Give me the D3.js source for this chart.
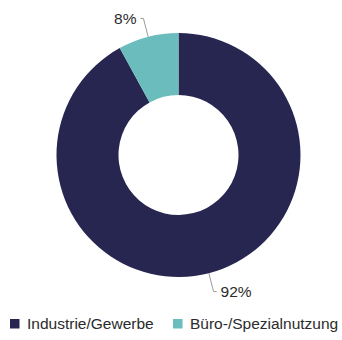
<!DOCTYPE html>
<html>
<head>
<meta charset="utf-8">
<script src="https://cdn.jsdelivr.net/npm/d3@7"></script>
<style>
  html, body { margin: 0; padding: 0; background: #ffffff; }
  svg { display: block; }
  text { font-family: "Liberation Sans", Arial, Helvetica, sans-serif; fill: #2b2b2b; }
</style>
</head>
<body>
<svg id="chart" width="342" height="340"></svg>
<script>
// Nutzungsarten – Anteile in Prozent
const categories = ["Industrie/Gewerbe", "Büro-/Spezialnutzung"];
const values = [92, 8];
const valueLabels = ["92%", "8%"];
const colors = ["#262650", "#6bbdbd"];

const width = 342, height = 340;
const cx = 178.5, cy = 155;
const outerR = 122, innerR = 60;

const svg = d3.select("#chart");
const g = svg.append("g").attr("transform", `translate(${cx},${cy})`);

const data = categories.map((c, i) => ({ name: c, value: values[i], label: valueLabels[i], color: colors[i] }));

const pie = d3.pie().sort(null).value(d => d.value);
const arcs = pie(data);

const arc = d3.arc().innerRadius(innerR).outerRadius(outerR);
const lineStart = d3.arc().innerRadius(outerR).outerRadius(outerR);
const lineBend = d3.arc().innerRadius(141).outerRadius(141);

g.selectAll("path.slice")
  .data(arcs)
  .join("path")
  .attr("class", "slice")
  .attr("d", arc)
  .attr("fill", d => d.data.color);

// leader lines and value labels
arcs.forEach(a => {
  const p0 = lineStart.centroid(a);
  const p1 = lineBend.centroid(a);
  const mid = (a.startAngle + a.endAngle) / 2;
  const right = Math.sin(mid) > 0;
  const p2 = [p1[0] + (right ? 3 : -3), p1[1]];
  g.append("polyline")
    .attr("points", [p0, p1, p2].map(p => p.join(",")).join(" "))
    .attr("fill", "none")
    .attr("stroke", "#9a9a9a")
    .attr("stroke-width", 1);
  g.append("text")
    .attr("x", p2[0] + (right ? 4 : -4))
    .attr("y", p2[1])
    .attr("dy", "0.36em")
    .attr("text-anchor", right ? "start" : "end")
    .attr("font-size", 15.5)
    .text(a.data.label);
});

// legend
const legend = svg.append("g").attr("transform", "translate(10,319)");
const legendX = [0, 163];
const items = legend.selectAll("g.item")
  .data(data)
  .join("g")
  .attr("class", "item")
  .attr("transform", (d, i) => `translate(${legendX[i]},0)`);
items.append("rect")
  .attr("width", 9.5)
  .attr("height", 9.5)
  .attr("fill", d => d.color);
items.append("text")
  .attr("x", 17)
  .attr("y", 9.5)
  .attr("font-size", 15.5)
  .text(d => d.name);
</script>
</body>
</html>
